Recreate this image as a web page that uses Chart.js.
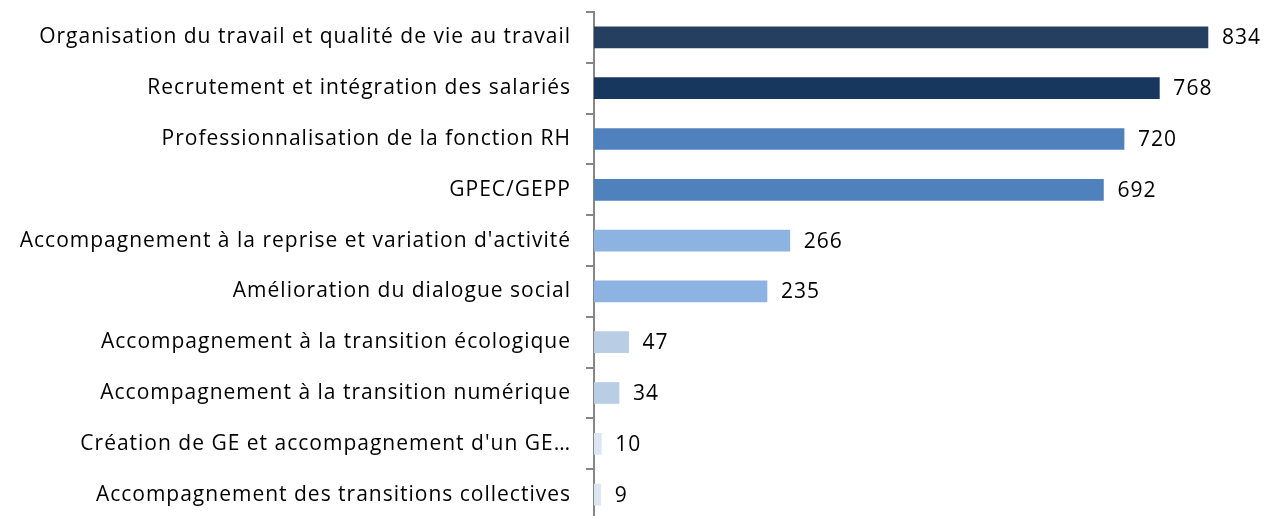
<!DOCTYPE html>
<html>
<head>
<meta charset="utf-8">
<script src="https://cdn.jsdelivr.net/npm/chart.js@4"></script>
<style>
  html, body { margin: 0; padding: 0; background: #fff; overflow: hidden; }
  #wrap { width: 1272px; height: 520px; }
</style>
</head>
<body>
<div id="wrap"><canvas id="chart"></canvas></div>
<script>
// donnees du graphique
const categories = [
  'Organisation du travail et qualité de vie au travail',
  'Recrutement et intégration des salariés',
  'Professionnalisation de la fonction RH',
  'GPEC/GEPP',
  "Accompagnement à la reprise et variation d'activité",
  'Amélioration du dialogue social',
  'Accompagnement à la transition écologique',
  'Accompagnement à la transition numérique',
  "Création de GE et accompagnement d'un GE…",
  'Accompagnement des transitions collectives'
];
const values = [834, 768, 720, 692, 266, 235, 47, 34, 10, 9];
const barColors = ['#243F60', '#17375E', '#4F81BD', '#4F81BD', '#8DB3E2', '#8DB3E2', '#B9CDE5', '#B9CDE5', '#DCE6F2', '#DCE6F2'];

const FONT = '"Open Sans", Lato, sans-serif';
const SPACING = '1px'; // pour approcher la largeur de Calibri

// espacement des lettres pour tout le canvas
const spacing = {
  id: 'spacing',
  beforeDraw(chart) { chart.ctx.letterSpacing = SPACING; }
};

// etiquettes de valeur a droite des barres
const valueLabels = {
  id: 'valueLabels',
  afterDatasetsDraw(chart) {
    const c = chart.ctx;
    const meta = chart.getDatasetMeta(0);
    c.save();
    c.font = '21px ' + FONT;
    c.letterSpacing = SPACING;
    c.fillStyle = '#000';
    c.textAlign = 'left';
    c.textBaseline = 'middle';
    meta.data.forEach((bar, i) => {
      c.fillText(String(values[i]), bar.x + 14, bar.y + 1);
    });
    c.restore();
  }
};

new Chart(document.getElementById('chart'), {
  type: 'bar',
  data: {
    labels: categories,
    datasets: [{
      data: values,
      backgroundColor: barColors,
      borderWidth: 0,
      barThickness: 21
    }]
  },
  options: {
    indexAxis: 'y',
    responsive: true, maintainAspectRatio: false,
    animation: false,
    layout: { padding: { top: 12, right: 0, bottom: 0, left: 0 } },
    plugins: { legend: { display: false }, tooltip: { enabled: false } },
    scales: {
      x: { display: false, min: 0, max: 921 },
      y: {
        afterFit: s => { s.width = 594; s.paddingTop = 0; s.paddingBottom = 0; },
        border: { display: true, color: '#868686', width: 2 },
        grid: { drawOnChartArea: false, drawTicks: true, tickLength: 8, color: '#868686', lineWidth: 2, offset: true },
        ticks: { color: '#000', padding: 15, font: { family: FONT, size: 21 } }
      }
    }
  },
  plugins: [spacing, valueLabels]
});
</script>
</body>
</html>
